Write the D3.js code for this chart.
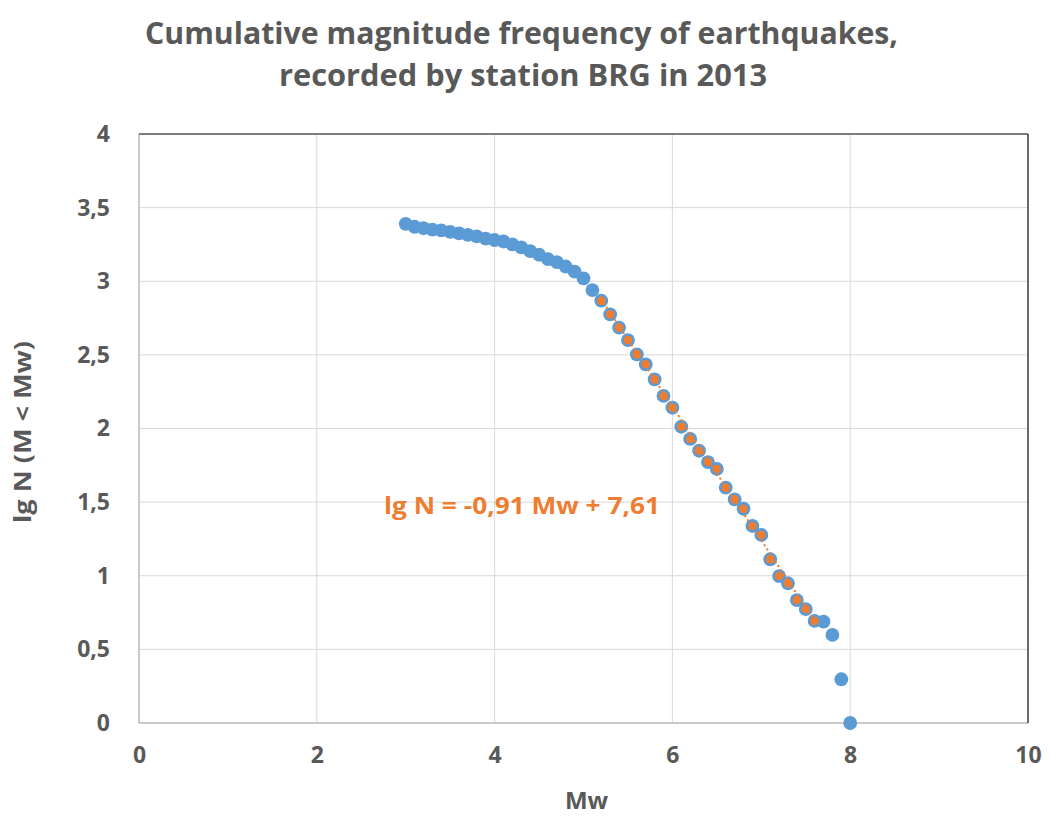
<!DOCTYPE html>
<html>
<head>
<meta charset="utf-8">
<script src="https://cdn.jsdelivr.net/npm/d3@7"></script>
<style>
  body { margin: 0; background: #fff; }
  text { font-family: "Open Sans", "DejaVu Sans", sans-serif; font-weight: bold; fill: #595959; }
</style>
</head>
<body>
<div id="chart"></div>
<script>
// magnitude classes and cumulative counts (lg N)
const mw = [3.0, 3.1, 3.2, 3.3, 3.4, 3.5, 3.6, 3.7, 3.8, 3.9,
            4.0, 4.1, 4.2, 4.3, 4.4, 4.5, 4.6, 4.7, 4.8, 4.9,
            5.0, 5.1, 5.2, 5.3, 5.4, 5.5, 5.6, 5.7, 5.8, 5.9,
            6.0, 6.1, 6.2, 6.3, 6.4, 6.5, 6.6, 6.7, 6.8, 6.9,
            7.0, 7.1, 7.2, 7.3, 7.4, 7.5, 7.6, 7.7, 7.8, 7.9, 8.0];
const lgN = [3.39, 3.37, 3.36, 3.35, 3.345, 3.335, 3.325, 3.315, 3.305, 3.29,
             3.28, 3.27, 3.25, 3.23, 3.205, 3.18, 3.15, 3.13, 3.10, 3.065,
             3.02, 2.94, 2.868, 2.775, 2.685, 2.60, 2.504, 2.436, 2.334, 2.221,
             2.141, 2.012, 1.929, 1.849, 1.772, 1.725, 1.598, 1.519, 1.455, 1.338,
             1.277, 1.112, 0.998, 0.949, 0.835, 0.774, 0.693, 0.688, 0.598, 0.297, 0.0];

// subset used for the linear fit
const fitMw = [5.2, 5.3, 5.4, 5.5, 5.6, 5.7, 5.8, 5.9, 6.0, 6.1, 6.2, 6.3,
               6.4, 6.5, 6.6, 6.7, 6.8, 6.9, 7.0, 7.1, 7.2, 7.3, 7.4, 7.5, 7.6];
const fitLgN = [2.868, 2.775, 2.685, 2.60, 2.504, 2.436, 2.334, 2.221, 2.141, 2.012,
                1.929, 1.849, 1.772, 1.725, 1.598, 1.519, 1.455, 1.338, 1.277, 1.112,
                0.998, 0.949, 0.835, 0.774, 0.693];
const slope = -0.91;
const intercept = 7.61;

const xTicks = [0, 2, 4, 6, 8, 10];
const yTicks = [0, 0.5, 1, 1.5, 2, 2.5, 3, 3.5, 4];

const W = 1050, H = 819;
const margin = { top: 134, right: 22, bottom: 96, left: 139 };
const width = W - margin.left - margin.right;
const height = H - margin.top - margin.bottom;

const svg = d3.select('#chart').append('svg')
    .attr('width', W)
    .attr('height', H);

const g = svg.append('g')
    .attr('transform', `translate(${margin.left},${margin.top})`);

const x = d3.scaleLinear().domain([0, 10]).range([0, width]);
const y = d3.scaleLinear().domain([0, 4]).range([height, 0]);
const fmt = d => String(d).replace('.', ',');

// gridlines
g.selectAll('.vgrid').data(xTicks).enter().append('line')
    .attr('x1', d => x(d)).attr('x2', d => x(d))
    .attr('y1', 0).attr('y2', height)
    .attr('stroke', '#d9d9d9').attr('stroke-width', 1);
g.selectAll('.hgrid').data(yTicks).enter().append('line')
    .attr('x1', 0).attr('x2', width)
    .attr('y1', d => y(d)).attr('y2', d => y(d))
    .attr('stroke', '#d9d9d9').attr('stroke-width', 1);

// axis lines and plot border
g.append('line').attr('x1', 0).attr('x2', 0).attr('y1', 0).attr('y2', height)
    .attr('stroke', '#bfbfbf').attr('stroke-width', 1.5);
g.append('line').attr('x1', 0).attr('x2', width).attr('y1', height).attr('y2', height)
    .attr('stroke', '#bfbfbf').attr('stroke-width', 1.5);
g.append('line').attr('x1', 0).attr('x2', width).attr('y1', 0).attr('y2', 0)
    .attr('stroke', '#595959').attr('stroke-width', 1.5);
g.append('line').attr('x1', width).attr('x2', width).attr('y1', 0).attr('y2', height)
    .attr('stroke', '#404040').attr('stroke-width', 1.5);

// axes (labels only)
const xAxis = g.append('g')
    .attr('transform', `translate(0,${height})`)
    .call(d3.axisBottom(x).tickValues(xTicks).tickSize(0).tickPadding(24).tickFormat(fmt));
const yAxis = g.append('g')
    .call(d3.axisLeft(y).tickValues(yTicks).tickSize(0).tickPadding(29).tickFormat(fmt));
[xAxis, yAxis].forEach(a => {
    a.select('.domain').remove();
    a.selectAll('text')
        .style('font-family', '"Open Sans", sans-serif')
        .style('font-weight', 'bold')
        .style('font-size', '23px')
        .attr('fill', '#595959');
});

// main series
const pts = mw.map((m, i) => ({ m: m, v: lgN[i] }));
g.selectAll('.dot').data(pts).enter().append('circle')
    .attr('cx', d => x(d.m))
    .attr('cy', d => y(d.v))
    .attr('r', 6.9)
    .attr('fill', '#5b9bd5');

// trendline
const [x0, x1] = d3.extent(fitMw);
g.append('line')
    .attr('x1', x(x0)).attr('y1', y(slope * x0 + intercept))
    .attr('x2', x(x1)).attr('y2', y(slope * x1 + intercept))
    .attr('stroke', '#ed7d31')
    .attr('stroke-width', 2)
    .attr('stroke-linecap', 'round')
    .attr('stroke-dasharray', '0.5,4.5');

// fitted subset markers
const fitPts = fitMw.map((m, i) => ({ m: m, v: fitLgN[i] }));
g.selectAll('.fit').data(fitPts).enter().append('circle')
    .attr('cx', d => x(d.m))
    .attr('cy', d => y(d.v))
    .attr('r', 4.3)
    .attr('fill', '#ed7d31');

// equation label
svg.append('text')
    .attr('x', 384).attr('y', 514)
    .attr('textLength', 276).attr('lengthAdjust', 'spacingAndGlyphs')
    .style('font-size', '23px')
    .style('fill', '#ed7d31')
    .text('lg N = -0,91 Mw + 7,61');

// title
svg.append('text')
    .attr('x', 145).attr('y', 44)
    .attr('textLength', 753).attr('lengthAdjust', 'spacingAndGlyphs')
    .style('font-size', '31px')
    .text('Cumulative magnitude frequency of earthquakes,');
svg.append('text')
    .attr('x', 279).attr('y', 86)
    .attr('textLength', 488).attr('lengthAdjust', 'spacingAndGlyphs')
    .style('font-size', '31px')
    .text('recorded by station BRG in 2013');

// axis titles
svg.append('text')
    .attr('x', margin.left + width / 2 + 3).attr('y', 809)
    .attr('text-anchor', 'middle')
    .style('font-size', '24px')
    .text('Mw');
svg.append('text')
    .attr('transform', 'translate(31,432) rotate(-90)')
    .attr('text-anchor', 'middle')
    .attr('textLength', 182).attr('lengthAdjust', 'spacingAndGlyphs')
    .style('font-size', '24px')
    .text('lg N (M < Mw)');
</script>
</body>
</html>
